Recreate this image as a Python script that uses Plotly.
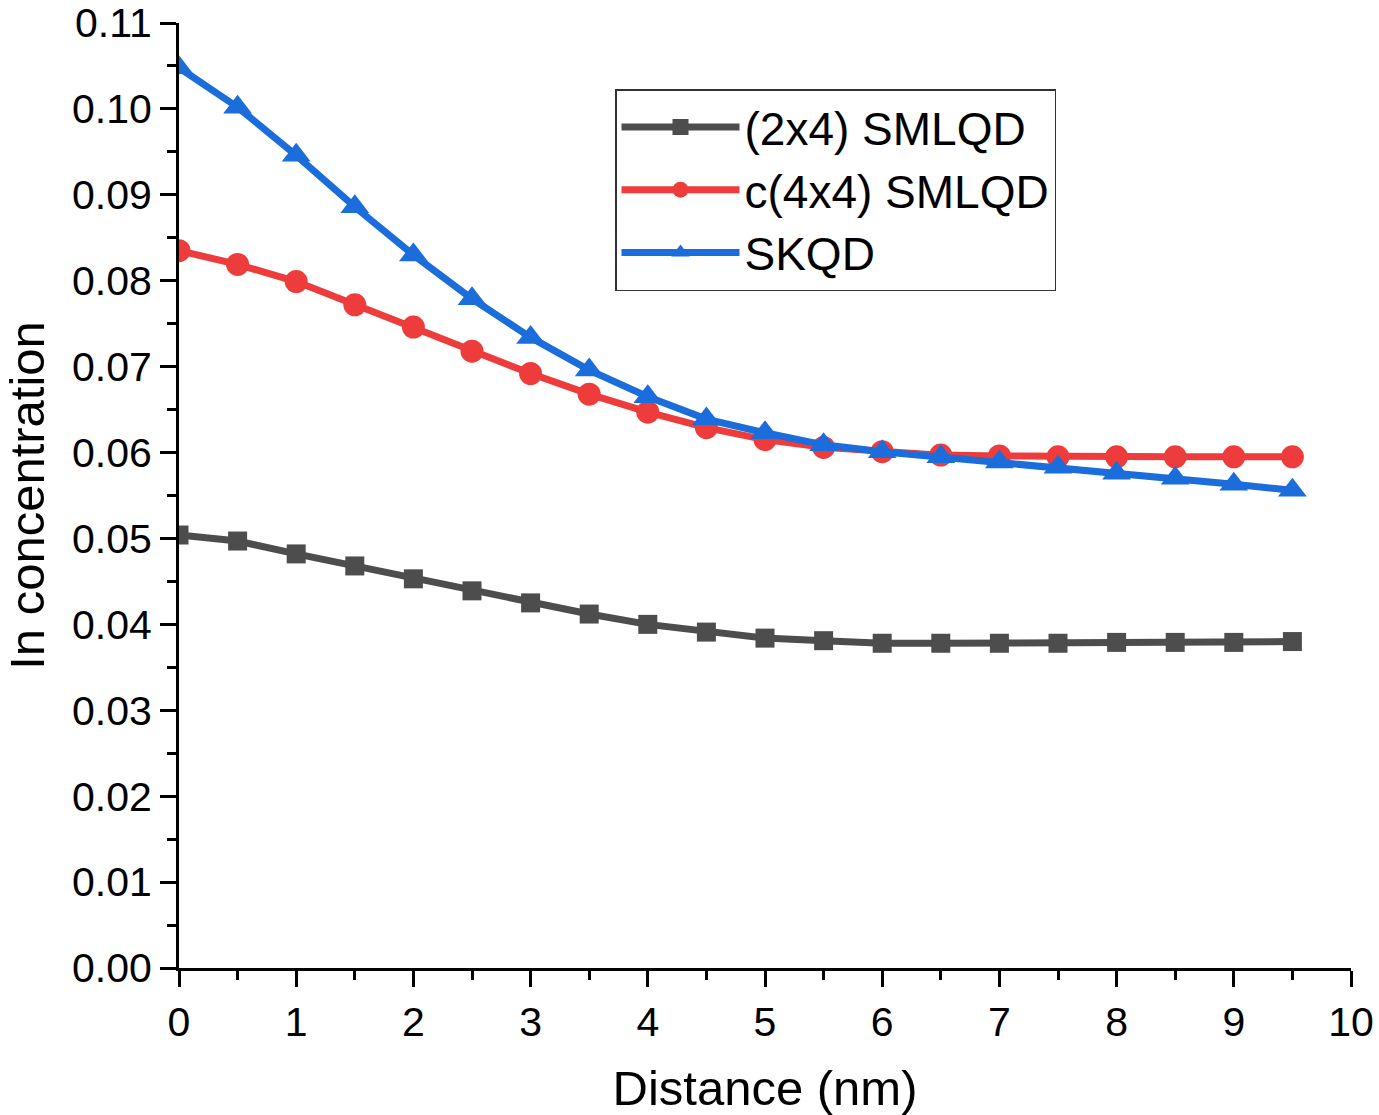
import plotly.graph_objects as go

distance = [0, 0.5, 1, 1.5, 2, 2.5, 3, 3.5, 4, 4.5, 5, 5.5, 6, 6.5, 7, 7.5, 8, 8.5, 9, 9.5]
smlqd_2x4 = [0.0504, 0.0497, 0.0482, 0.0468, 0.0453, 0.0439, 0.0425, 0.0412, 0.0400, 0.0391,
             0.0384, 0.0381, 0.0378, 0.0378, 0.0378, 0.0378, 0.0379, 0.0379, 0.0379, 0.0380]
smlqd_c4x4 = [0.0835, 0.0819, 0.0799, 0.0772, 0.0746, 0.0718, 0.0692, 0.0668, 0.0647, 0.0629,
              0.0615, 0.0606, 0.0601, 0.0597, 0.0596, 0.0595, 0.0595, 0.0595, 0.0595, 0.0595]
skqd = [0.1048, 0.1002, 0.0946, 0.0886, 0.0830, 0.0779, 0.0734, 0.0696, 0.0665, 0.0639,
        0.0623, 0.0609, 0.0601, 0.0595, 0.0589, 0.0583, 0.0576, 0.0570, 0.0563, 0.0556]

series = [
    ("(2x4) SMLQD", smlqd_2x4, "#4d4d4d", "square", 19),
    ("c(4x4) SMLQD", smlqd_c4x4, "#ee3c3c", "circle", 23),
    ("SKQD", skqd, "#1a6ddb", "triangle-up", 25),
]

fig = go.Figure()
for name, vals, color, sym, size in series:
    fig.add_trace(go.Scatter(
        x=distance, y=vals, name=name, mode="lines+markers",
        line=dict(color=color, width=7),
        marker=dict(symbol=sym, size=size, color=color),
    ))

font = "Liberation Sans, Arial, sans-serif"
fig.update_layout(
    width=1379, height=1115,
    margin=dict(l=179, r=28, t=23, b=147),
    paper_bgcolor="white", plot_bgcolor="white",
    font=dict(family=font, color="black"),
    showlegend=True,
    legend=dict(
        x=(615 - 179) / 1172, y=(968 - 89) / 945, xanchor="left", yanchor="top",
        bgcolor="white", bordercolor="#333333", borderwidth=1.5,
        font=dict(size=46, family=font), itemwidth=118,
        tracegroupgap=0,
    ),
    xaxis=dict(
        range=[0, 10], dtick=1, tick0=0, automargin=False,
        showgrid=False, zeroline=False,
        showline=True, linecolor="black", linewidth=3,
        ticks="outside", ticklen=16, tickwidth=3, tickcolor="black",
        tickfont=dict(size=41, family=font), ticklabelstandoff=0,
        minor=dict(dtick=0.5, ticks="outside", ticklen=9, tickwidth=3, tickcolor="black", showgrid=False),
        title=dict(text="Distance (nm)", font=dict(size=49, family=font), standoff=36),
    ),
    yaxis=dict(
        range=[0, 0.11], dtick=0.01, tick0=0, tickformat=".2f", automargin=False,
        showgrid=False, zeroline=False,
        showline=True, linecolor="black", linewidth=3,
        ticks="outside", ticklen=16, tickwidth=3, tickcolor="black",
        tickfont=dict(size=41, family=font),
        minor=dict(dtick=0.005, ticks="outside", ticklen=9, tickwidth=3, tickcolor="black", showgrid=False),
        title=dict(text="In concentration", font=dict(size=49, family=font), standoff=20),
    ),
)

fig.write_html("out.html")
